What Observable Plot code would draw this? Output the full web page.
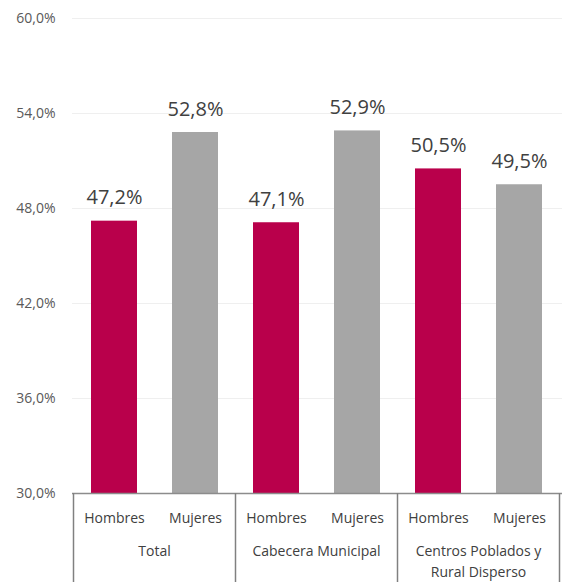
<!DOCTYPE html>
<html><head><meta charset="utf-8">
<script src="https://cdn.jsdelivr.net/npm/d3@7"></script>
<script src="https://cdn.jsdelivr.net/npm/@observablehq/plot@0.6"></script>
<style>body{margin:0;background:#fff;} svg{display:block;font-family:"Open Sans",sans-serif;}</style>
</head><body><div id="chart"></div>
<script>
const groups = ["Total", "Cabecera Municipal", "Centros Poblados y\nRural Disperso"];
const sexes = ["Hombres", "Mujeres"];
const values = [47.2, 52.8, 47.1, 52.9, 50.5, 49.5];
const yTicks = [30, 36, 42, 48, 54, 60];
const colors = ["#B9004B", "#A6A6A6"];

const data = [];
groups.forEach((g, gi) => sexes.forEach((s, si) => {
  data.push({group: g, sex: s, key: g + "|" + s, value: values[gi * 2 + si]});
}));
const fmt = d => d.toFixed(1).replace(".", ",") + "%";

const plot = Plot.plot({
  width: 562, height: 582,
  marginLeft: 72, marginRight: 0, marginTop: 18, marginBottom: 89,
  style: {fontFamily: "'Open Sans', sans-serif", background: "#fff"},
  x: {domain: data.map(d => d.key), paddingInner: 0.43, paddingOuter: 0.215, axis: null},
  y: {domain: [30, 60], ticks: yTicks, axis: null},
  color: {domain: sexes, range: colors},
  marks: [
    Plot.ruleY(yTicks.filter(t => t > 30), {stroke: "#EFEFEF", strokeWidth: 1}),
    Plot.axisY({ticks: yTicks, tickSize: 0, tickPadding: 17, tickFormat: fmt, fontSize: 14, fill: "#595959", label: null}),
    Plot.barY(data, {x: "key", y1: 30, y2: "value", fill: "sex"}),
    Plot.text(data, {x: "key", y: "value", text: d => fmt(d.value), lineAnchor: "bottom", dy: -17, fontSize: 20, fill: "#404040"}),
    Plot.ruleY([30], {stroke: "#8C8C8C", strokeWidth: 1.5}),
    Plot.text(data, {x: "key", text: "sex", frameAnchor: "bottom", dy: 29, fontSize: 14, fill: "#404040"})
  ]
});

const xs = plot.scale("x");
const svg = d3.select(plot);
const y0 = 582 - 89;
groups.forEach((g, gi) => {
  const a = xs.apply(data[gi * 2].key);
  const b = xs.apply(data[gi * 2 + 1].key) + xs.bandwidth;
  const pad = (xs.step - xs.bandwidth) / 2;
  const left = a - pad, right = b + pad;
  svg.append("line").attr("x1", left).attr("x2", left).attr("y1", y0).attr("y2", 582)
    .attr("stroke", "#808080").attr("stroke-width", 1.5);
  if (gi === groups.length - 1) {
    svg.append("line").attr("x1", right).attr("x2", right).attr("y1", y0).attr("y2", 582)
      .attr("stroke", "#808080").attr("stroke-width", 1.5);
  }
  const lines = g.split("\n");
  const t = svg.append("text").attr("x", (left + right) / 2).attr("y", y0 + 63)
    .attr("text-anchor", "middle").attr("font-size", 14).attr("fill", "#404040");
  lines.forEach((ln, i) => t.append("tspan").attr("x", (left + right) / 2).attr("dy", i ? 21 : 0).text(ln));
});

document.getElementById("chart").appendChild(plot);
</script></body></html>
